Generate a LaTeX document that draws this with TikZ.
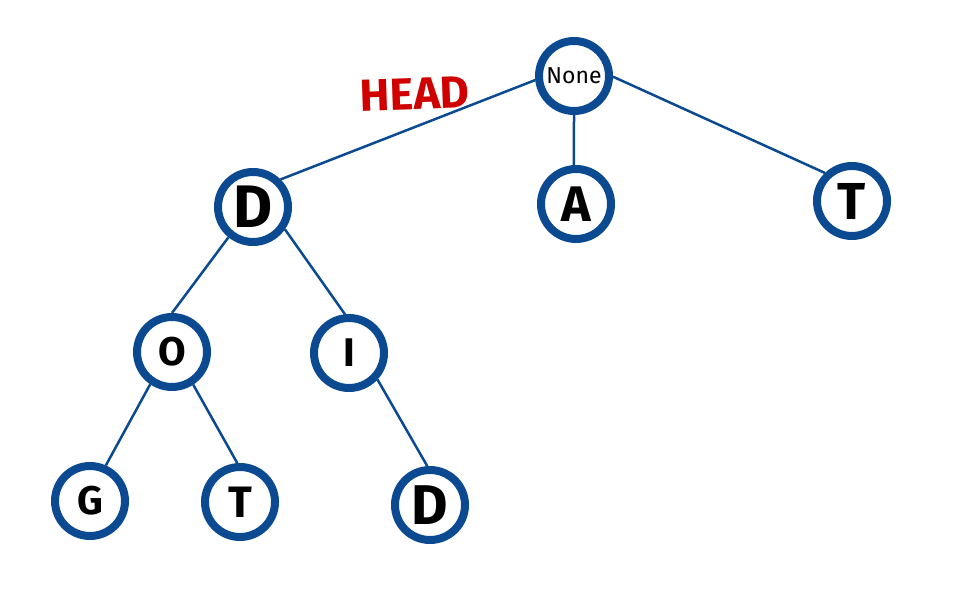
\documentclass[tikz,border=0pt]{standalone}
\usepackage{fontspec}
\setmainfont{Fira Sans}
\definecolor{nodeblue}{HTML}{0B4A91}
\definecolor{headred}{HTML}{D00000}
\tikzset{
  tnode/.style={circle, draw=nodeblue, line width=8pt, fill=white, minimum size=70pt, inner sep=0pt, text=black, font=\bfseries\fontsize{50}{50}\selectfont},
  edge/.style={draw=nodeblue, line width=2.5pt}
}
\begin{document}
\begin{tikzpicture}[x=1pt,y=-1pt]
\useasboundingbox (0,0) rectangle (967,609);
\fill[white] (0,0) rectangle (967,609);
% nodes
\node[tnode, font=\fontsize{23}{23}\selectfont] (none) at (574,76) {None};
\node[tnode, font=\bfseries\fontsize{60}{60}\selectfont] (d1) at (253,207) {D};
\node[tnode] (a) at (576,204) {A};
\node[tnode, font=\bfseries\fontsize{52}{52}\selectfont] (t1) at (852,201) {T};
\node[tnode, font=\bfseries\fontsize{40}{40}\selectfont] (o) at (172,352) {O};
\node[tnode, font=\bfseries\fontsize{40}{40}\selectfont] (i) at (349,353) {I};
\node[tnode, font=\bfseries\fontsize{40}{40}\selectfont] (g) at (90,501) {G};
\node[tnode, font=\bfseries\fontsize{44}{44}\selectfont] (t2) at (240,502) {T};
\node[tnode, font=\bfseries\fontsize{56}{56}\selectfont] (d2) at (430,505) {D};
% edges
\draw[edge] (none.186) -- (d1.45);
\draw[edge] (none.south) -- (a.93);
\draw[edge] (none.-1) -- (t1.134);
\draw[edge] (d1.231) -- (o.90);
\draw[edge] (d1.-35) -- (i.96);
\draw[edge] (o.236) -- (g.66);
\draw[edge] (o.-57) -- (t2.94);
\draw[edge] (i.-43) -- (d2.94);
% label
\node[text=headred, font=\bfseries\fontsize{45}{45}\selectfont, rotate=2] (head) at (415,94) {HEAD};
\end{tikzpicture}
\end{document}
